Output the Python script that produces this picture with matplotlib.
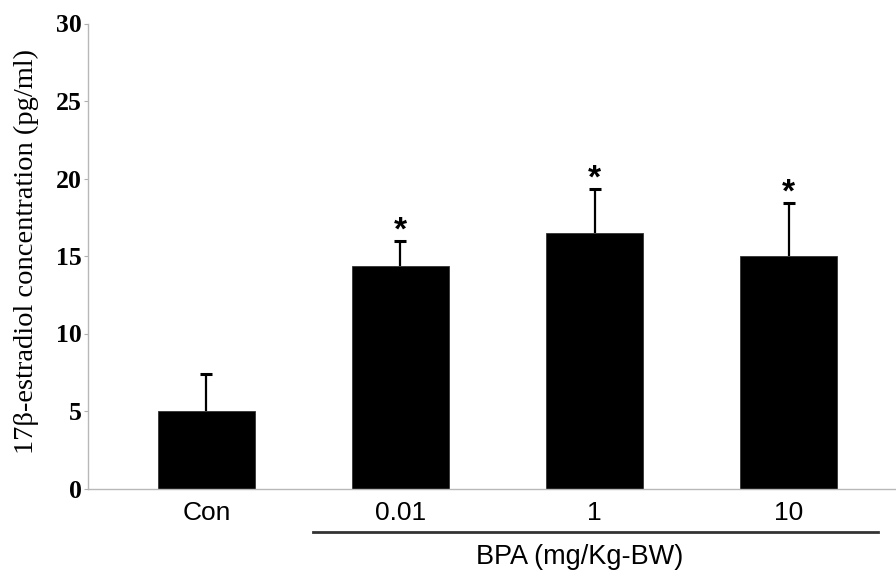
import matplotlib
matplotlib.use("Agg")
import matplotlib.pyplot as plt
import numpy as np

categories = ["Con", "0.01", "1", "10"]
means = [5.0, 14.35, 16.5, 15.0]
errors = [2.4, 1.6, 2.85, 3.45]
significant = [False, True, True, True]
yticks = [0, 5, 10, 15, 20, 25, 30]
ylabel = "17β-estradiol concentration (pg/ml)"
group_label = "BPA (mg/Kg-BW)"

W, H = 896, 575
fig = plt.figure(figsize=(W / 100, H / 100), dpi=100)
ax = fig.add_axes([88.3 / W, 1 - 488.5 / H, 1 - 88.3 / W, (488.5 - 23.5) / H])

x = np.arange(len(categories))
ax.bar(x, means, width=0.5, color="black", edgecolor="#333333", linewidth=0.6, zorder=2)
eb = ax.errorbar(x, means, yerr=[np.zeros(len(errors)), errors], fmt="none",
                 ecolor="black", elinewidth=1.6, capsize=4.2, capthick=2.2, zorder=3)
eb[1][0].set_visible(False)

for xi, m, e, s in zip(x, means, errors, significant):
    if s:
        ax.annotate("*", (xi, m + e), xytext=(0, -4), textcoords="offset points",
                    ha="center", va="bottom", fontsize=24, fontweight="bold",
                    family="Liberation Sans")

ax.set_xlim(-0.608, 3.553)
ax.set_ylim(0, 30)
ax.set_yticks(yticks)
ax.set_yticklabels([str(t) for t in yticks], family="Liberation Serif",
                   fontweight="bold", fontsize=18.5)
ax.set_xticks(x)
ax.set_xticklabels(categories, family="Liberation Sans", fontsize=19)
ax.tick_params(axis="x", length=0, pad=9)
ax.tick_params(axis="y", length=3, width=0.8, color="#b0b0b0", pad=1.5)

for side in ["top", "right"]:
    ax.spines[side].set_visible(False)
for side in ["left", "bottom"]:
    ax.spines[side].set_color("#b8b8b8")
    ax.spines[side].set_linewidth(1.0)

fig.text(26.5 / W, 1 - 251 / H, ylabel, rotation=90, ha="center", va="center",
         family="Liberation Serif", fontsize=20.5)

# group underline and label
trans = matplotlib.transforms.blended_transform_factory(ax.transData, fig.transFigure)
ax.plot([0.551, 3.462], [1 - 531.7 / H] * 2, color="#333333", linewidth=2.0,
        transform=trans, clip_on=False)
ax.text(1.925, 1 - 557 / H, group_label, transform=trans, ha="center", va="center",
        family="Liberation Sans", fontsize=19.5)

fig.savefig("out.png", dpi=100)
